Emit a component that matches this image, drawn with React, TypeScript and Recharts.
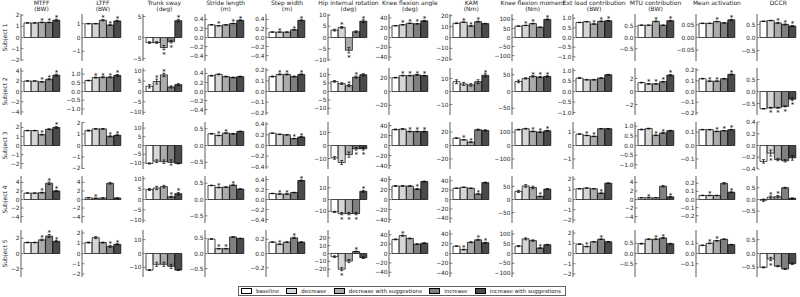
import React from 'react';
import { ComposedChart, Bar, Cell, ErrorBar, Scatter, XAxis, YAxis } from 'recharts';

const conditions = ['baseline', 'decrease', 'decrease with suggestions', 'increase', 'increase with suggestions'];
const fills = ['#ffffff', '#d6d6d6', '#ababab', '#808080', '#4a4a4a'];
const subjects = ['Subject 1', 'Subject 2', 'Subject 3', 'Subject 4', 'Subject 5'];

// rows = subjects, columns = conditions
const mtffMean = [[1.3, 1.3, 1.35, 1.35, 1.55], [2.05, 2.05, 1.9, 2.4, 3.2], [1.65, 1.65, 1.2, 1.8, 2.0], [1.5, 1.5, 1.6, 3.8, 2.0], [1.45, 1.45, 1.8, 2.3, 1.6]];
const mtffErr = [[0.02, 0.02, 0.03, 0.03, 0.08], [0.05, 0.05, 0.08, 0.1, 0.2], [0.03, 0.03, 0.05, 0.05, 0.1], [0.05, 0.05, 0.1, 0.3, 0.15], [0.05, 0.05, 0.1, 0.2, 0.1]];
const mtffSig = ['00111', '00111', '00101', '00111', '00111'];
const mtffLim = [2.1, 4.6, 2.6, 5.5, 3.1];
const mtffTicks = [[-2, -1, 0, 1, 2], [-4, -2, 0, 2, 4], [-2, -1, 0, 1, 2], [-4, -2, 0, 2, 4], [-2, 0, 2]];

const ltffMean = [[1.0, 1.0, 1.25, 0.9, 1.2], [0.63, 0.8, 0.82, 0.82, 0.93], [1.3, 1.45, 1.45, 0.8, 0.9], [0.4, 0.3, 0.35, 3.8, 0.35], [1.07, 1.55, 1.07, 0.7, 0.9]];
const ltffErr = [[0.02, 0.02, 0.05, 0.03, 0.05], [0.02, 0.03, 0.03, 0.03, 0.05], [0.05, 0.03, 0.03, 0.05, 0.03], [0.05, 0.05, 0.05, 0.2, 0.05], [0.05, 0.1, 0.05, 0.1, 0.05]];
const ltffSig = ['00111', '01111', '00011', '01000', '00011'];
const ltffLim = [1.7, 1.35, 2.05, 5.5, 2.3];
const ltffTicks = [[-1, 0, 1], [-1, -0.5, 0, 0.5, 1], [-2, -1, 0, 1, 2], [-4, -2, 0, 2, 4], [-2, -1, 0, 1, 2]];

const trunkMean = [[-1.2, -1.2, -2.4, -1.0, 4.0], [2.5, 4.8, 8.0, 2.2, 3.3], [-10.3, -9.0, -9.3, -9.7, -10.3], [4.8, 5.5, 6.2, 1.3, 2.8], [-12, -7.8, -7.8, -9.3, -12]];
const trunkErr = [[0.2, 0.2, 0.5, 0.3, 0.3], [0.8, 1.2, 0.8, 0.5, 0.5], [0.3, 0.8, 1.0, 1.5, 0.3], [0.5, 0.8, 0.6, 0.3, 0.6], [0.3, 1.5, 1.5, 1.5, 0.3]];
const trunkSig = ['00111', '01100', '00000', '00011', '00000'];
const trunkLim = [5.6, 11.3, 13.5, 11.3, 17];
const trunkTicks = [[-5, 0, 5], [-10, -5, 0, 5, 10], [-10, -5, 0, 5, 10], [-10, -5, 0, 5, 10], [-10, 0, 10]];

const strideMean = [[0.28, 0.26, 0.28, 0.31, 0.38], [0.35, 0.38, 0.33, 0.31, 0.33], [0.35, 0.3, 0.37, 0.35, 0.42], [0.43, 0.37, 0.38, 0.44, 0.32], [0.48, 0.16, 0.16, 0.55, 0.5]];
const strideErr = [[0.005, 0.005, 0.005, 0.005, 0.01], [0.01, 0.01, 0.01, 0.01, 0.01], [0.01, 0.01, 0.01, 0.01, 0.01], [0.01, 0.01, 0.01, 0.01, 0.01], [0.01, 0.01, 0.01, 0.01, 0.01]];
const strideSig = ['01011', '00000', '01100', '01010', '01100'];
const strideLim = [0.52, 0.52, 0.7, 0.72, 0.78];
const strideTicks = [[-0.4, -0.2, 0, 0.2, 0.4], [-0.4, -0.2, 0, 0.2, 0.4], [-0.5, 0, 0.5], [-0.5, 0, 0.5], [-0.5, 0, 0.5]];

const stepMean = [[0.12, 0.12, 0.12, 0.17, 0.38], [0.14, 0.16, 0.16, 0.14, 0.16], [0.23, 0.21, 0.2, 0.13, 0.16], [0.12, 0.11, 0.11, 0.14, 0.38], [0.16, 0.13, 0.16, 0.22, 0.16]];
const stepErr = [[0.005, 0.005, 0.005, 0.005, 0.01], [0.005, 0.005, 0.005, 0.005, 0.005], [0.005, 0.005, 0.005, 0.005, 0.005], [0.005, 0.005, 0.005, 0.005, 0.01], [0.005, 0.005, 0.005, 0.01, 0.005]];
const stepSig = ['01011', '01101', '00011', '01101', '01010'];
const stepLim = [0.52, 0.22, 0.44, 0.47, 0.33];
const stepTicks = [[-0.4, -0.2, 0, 0.2, 0.4], [-0.2, -0.1, 0, 0.1, 0.2], [-0.4, -0.2, 0, 0.2, 0.4], [-0.4, -0.2, 0, 0.2, 0.4], [-0.2, 0, 0.2]];

const hipMean = [[3.3, 4.5, -5.7, 2.6, 7.3], [6.0, 4.7, 3.5, 8.6, 10.0], [-9.5, -13, -7, -2.5, -2.5], [-10.5, -12, -12, -12, 7], [-4, -20, -9.6, 2.5, -5.4]];
const hipErr = [[0.4, 0.4, 1.2, 0.4, 0.6], [0.5, 0.5, 0.6, 0.6, 0.6], [1, 1.5, 2, 1, 1], [0.5, 1, 1, 1, 0.8], [1, 2, 2, 0.5, 1]];
const hipSig = ['01101', '00110', '00011', '01111', '01010'];
const hipLim = [10.5, 14, 18, 20, 30];
const hipTicks = [[-10, -5, 0, 5, 10], [-10, -5, 0, 5, 10], [-10, 0, 10], [-10, 0, 10], [-20, -10, 0, 10, 20]];

const kfaMean = [[24, 26, 29, 28, 34], [20, 23, 23, 24, 23], [32, 33, 28, 28, 28], [27, 27, 27, 21, 36], [30, 38, 32, 20, 22]];
const kfaErr = [[0.5, 0.5, 0.5, 0.5, 1], [0.5, 0.5, 0.5, 0.5, 0.5], [1, 1, 1, 1, 1], [1, 1, 1, 1, 1], [1, 1, 1, 1, 1]];
const kfaSig = ['01111', '01111', '00111', '00010', '01000'];
const kfaLim = [48, 34, 47, 47, 50];
const kfaTicks = [[-40, -20, 0, 20, 40], [-20, 0, 20], [-40, -20, 0, 20, 40], [-40, -20, 0, 20, 40], [-40, -20, 0, 20, 40]];

const kamMean = [[13, 14, 10.6, 14.5, 12.7], [7.5, 5.8, 5.1, 7.5, 12.4], [11, 8.5, 5, 23.5, 22.5], [24, 26, 24, 11.6, 36], [15, 8, 23, 28, 22]];
const kamErr = [[0.3, 0.3, 0.3, 0.5, 0.3], [1.5, 1.2, 1, 1.5, 1.2], [0.5, 0.5, 0.5, 1, 1], [0.5, 0.5, 0.5, 0.5, 1], [0.5, 1, 1, 1, 1]];
const kamSig = ['01110', '00001', '01100', '00010', '01011'];
const kamLim = [21.5, 18, 35, 50, 48];
const kamTicks = [[-20, -10, 0, 10, 20], [-10, 0, 10], [-20, 0, 20], [-40, -20, 0, 20, 40], [-40, -20, 0, 20, 40]];

const kfmMean = [[63, 67, 77, 57, 100], [30, 39, 45, 43, 45], [118, 125, 105, 100, 110], [31, 52, 46, 12, 40], [38, 75, 66, 28, 45]];
const kfmErr = [[1, 1, 2, 1, 3], [4, 2, 2, 2, 2], [3, 3, 3, 3, 3], [4, 5, 5, 1, 2], [3, 5, 4, 2, 2]];
const kfmSig = ['01101', '00111', '00111', '00010', '00010'];
const kfmLim = [130, 70, 175, 90, 120];
const kfmTicks = [[-100, -50, 0, 50, 100], [-50, 0, 50], [-100, 0, 100], [-50, 0, 50], [-100, -50, 0, 50, 100]];

const extMean = [[0.78, 0.82, 0.7, 0.84, 0.87], [0.64, 0.56, 0.56, 0.64, 0.8], [0.85, 0.75, 0.68, 1.25, 1.25], [1.05, 1.12, 1.05, 0.62, 1.6], [0.92, 0.68, 1.15, 1.4, 1.15]];
const extErr = [[0.01, 0.01, 0.02, 0.02, 0.02], [0.02, 0.02, 0.02, 0.02, 0.02], [0.02, 0.02, 0.02, 0.02, 0.02], [0.02, 0.02, 0.02, 0.03, 0.03], [0.03, 0.03, 0.03, 0.03, 0.03]];
const extSig = ['00111', '00000', '01100', '00010', '01010'];
const extLim = [1.22, 1.12, 1.75, 2.3, 2.3];
const extTicks = [[-1, -0.5, 0, 0.5, 1], [-1, -0.5, 0, 0.5, 1], [-1, 0, 1], [-2, -1, 0, 1, 2], [-2, -1, 0, 1, 2]];

const mtuMean = [[0.55, 0.55, 0.72, 0.55, 0.75], [1.36, 1.17, 1.17, 1.5, 2.5], [0.83, 0.88, 0.53, 0.65, 0.77], [0.4, 0.4, 0.4, 3.1, 0.6], [0.48, 0.7, 0.7, 0.76, 0.48]];
const mtuErr = [[0.01, 0.01, 0.02, 0.01, 0.02], [0.05, 0.05, 0.05, 0.05, 0.1], [0.02, 0.02, 0.02, 0.02, 0.02], [0.03, 0.03, 0.03, 0.15, 0.05], [0.02, 0.02, 0.02, 0.02, 0.02]];
const mtuSig = ['00101', '01111', '00110', '01001', '00110'];
const mtuLim = [1.05, 3.6, 1.22, 5.5, 1.15];
const mtuTicks = [[-0.5, 0, 0.5], [-2, 0, 2], [-1, -0.5, 0, 0.5, 1], [-4, -2, 0, 2, 4], [-0.5, 0, 0.5]];

const maMean = [[0.056, 0.056, 0.063, 0.058, 0.07], [0.12, 0.097, 0.097, 0.12, 0.16], [0.118, 0.118, 0.105, 0.11, 0.118], [0.05, 0.05, 0.05, 0.2, 0.09], [0.08, 0.1, 0.125, 0.14, 0.087]];
const maErr = [[0.001, 0.001, 0.001, 0.001, 0.002], [0.003, 0.003, 0.003, 0.003, 0.005], [0.002, 0.002, 0.002, 0.002, 0.002], [0.003, 0.003, 0.003, 0.01, 0.005], [0.003, 0.003, 0.003, 0.003, 0.003]];
const maSig = ['00101', '01101', '00111', '01001', '01100'];
const maLim = [0.093, 0.22, 0.175, 0.29, 0.23];
const maTicks = [[-0.05, 0, 0.05], [-0.2, -0.1, 0, 0.1, 0.2], [-0.1, 0, 0.1], [-0.2, -0.1, 0, 0.1, 0.2], [-0.1, 0, 0.1]];

const dccrMean = [[0.62, 0.65, 0.56, 0.5, 0.44], [-0.72, -0.68, -0.68, -0.62, -0.32], [-0.27, -0.13, -0.24, -0.26, -0.21], [-0.03, 0.1, 0.12, 0.5, 0.05], [-0.5, -0.2, -0.46, -0.56, -0.37]];
const dccrErr = [[0.01, 0.01, 0.02, 0.02, 0.02], [0.01, 0.02, 0.02, 0.02, 0.05], [0.03, 0.05, 0.02, 0.02, 0.04], [0.05, 0.05, 0.05, 0.02, 0.02], [0.02, 0.06, 0.02, 0.02, 0.03]];
const dccrSig = ['00111', '01111', '01000', '01100', '01000'];
const dccrLim = [0.9, 0.98, 0.4, 1.0, 0.85];
const dccrTicks = [[-0.5, 0, 0.5], [-0.5, 0, 0.5], [-0.4, -0.2, 0, 0.2, 0.4], [-0.5, 0, 0.5], [-0.5, 0, 0.5]];

type Metric = { title: string[]; mean: number[][]; err: number[][]; sig: string[]; lim: number[]; ticks: number[][] };

const metrics: Metric[] = [
  { title: ['MTFF', '(BW)'], mean: mtffMean, err: mtffErr, sig: mtffSig, lim: mtffLim, ticks: mtffTicks },
  { title: ['LTFF', '(BW)'], mean: ltffMean, err: ltffErr, sig: ltffSig, lim: ltffLim, ticks: ltffTicks },
  { title: ['Trunk sway', '(deg)'], mean: trunkMean, err: trunkErr, sig: trunkSig, lim: trunkLim, ticks: trunkTicks },
  { title: ['Stride length', '(m)'], mean: strideMean, err: strideErr, sig: strideSig, lim: strideLim, ticks: strideTicks },
  { title: ['Step width', '(m)'], mean: stepMean, err: stepErr, sig: stepSig, lim: stepLim, ticks: stepTicks },
  { title: ['Hip internal rotation', '(deg)'], mean: hipMean, err: hipErr, sig: hipSig, lim: hipLim, ticks: hipTicks },
  { title: ['Knee flexion angle', '(deg)'], mean: kfaMean, err: kfaErr, sig: kfaSig, lim: kfaLim, ticks: kfaTicks },
  { title: ['KAM', '(Nm)'], mean: kamMean, err: kamErr, sig: kamSig, lim: kamLim, ticks: kamTicks },
  { title: ['Knee flexion moment', '(Nm)'], mean: kfmMean, err: kfmErr, sig: kfmSig, lim: kfmLim, ticks: kfmTicks },
  { title: ['Ext load contribution', '(BW)'], mean: extMean, err: extErr, sig: extSig, lim: extLim, ticks: extTicks },
  { title: ['MTU contribution', '(BW)'], mean: mtuMean, err: mtuErr, sig: mtuSig, lim: mtuLim, ticks: mtuTicks },
  { title: ['Mean activation'], mean: maMean, err: maErr, sig: maSig, lim: maLim, ticks: maTicks },
  { title: ['DCCR'], mean: dccrMean, err: dccrErr, sig: dccrSig, lim: dccrLim, ticks: dccrTicks },
];

const FONT = '"DejaVu Sans", sans-serif';
const COL_X0 = 20.5;
const COL_STEP = 61.4;
const ROW_Y0 = 14;
const ROW_STEP = 54;
const BOX_W = 42;
const BOX_H = 47;
const AXIS_W = 24;
const PAD = 5; // room around the box so stars near the frame are not clipped

// matplotlib-like tick labels: same decimals on an axis, unicode minus
const tickFormatter = (ticks: number[]) => {
  const d = Math.max(...ticks.map((t) => (String(t).split('.')[1] || '').length));
  return (v: number) => v.toFixed(d).replace('-', '\u2212');
};

function Star(props: any) {
  const { cx, cy, payload } = props;
  if (payload == null || payload.star == null || cx == null || cy == null) return <g />;
  return (
    <text x={cx} y={cy + 4} textAnchor="middle" fontSize={7} fontFamily={FONT} fill="#000">*</text>
  );
}

function Panel({ m, r, c }: { m: Metric; r: number; c: number }) {
  const lim = m.lim[r];
  const data = conditions.map((name, i) => {
    const v = m.mean[r][i];
    const e = m.err[r][i];
    const pad = lim * 0.13;
    const star = m.sig[r][i] === '1' ? (v >= 0 ? v + e + pad : v - e - pad) : null;
    return { name, v, e, star };
  });
  const fmt = tickFormatter(m.ticks[r]);
  const left = COL_X0 + COL_STEP * c - AXIS_W;
  const top = ROW_Y0 + ROW_STEP * r - PAD;
  const tickStyle = { fontSize: 5.8, fontFamily: FONT, fill: '#222' };
  const line = { stroke: '#333', strokeWidth: 0.6 };
  const frame = { stroke: '#333', strokeWidth: 0.8 };
  return (
    <div style={{ position: 'absolute', left, top }}>
      <ComposedChart width={AXIS_W + BOX_W + 1} height={BOX_H + 2 * PAD} data={data}
        margin={{ top: PAD, right: 1, bottom: PAD, left: 0 }} barCategoryGap={0} barGap={0}>
        <XAxis dataKey="name" type="category" height={0} padding={{ left: 3, right: 3 }}
          tick={false} tickSize={-2} tickLine={line} axisLine={frame} interval={0} />
        <XAxis xAxisId="top" dataKey="name" type="category" orientation="top" height={0}
          padding={{ left: 3, right: 3 }} tick={false} tickSize={-2} tickLine={line} axisLine={frame} interval={0} />
        <YAxis type="number" domain={[-lim, lim]} allowDataOverflow ticks={m.ticks[r]} width={AXIS_W}
          tickFormatter={fmt} tick={tickStyle} tickSize={-2.5} tickMargin={4}
          tickLine={line} axisLine={frame} interval={0} />
        <YAxis yAxisId="right" orientation="right" type="number" domain={[-lim, lim]} allowDataOverflow
          ticks={m.ticks[r]} width={0} tick={false} tickSize={-2.5} tickLine={line} axisLine={frame} interval={0} />
        <Bar dataKey="v" isAnimationActive={false} stroke="#000" strokeWidth={0.7}>
          {data.map((d, i) => <Cell key={d.name} fill={fills[i]} />)}
          <ErrorBar dataKey="e" width={1.5} stroke="#000" strokeWidth={0.7} />
        </Bar>
        <Scatter dataKey="star" isAnimationActive={false} shape={Star} />
      </ComposedChart>
    </div>
  );
}

export default function App() {
  return (
    <div style={{ position: 'absolute', left: 0, top: 0, width: 800, height: 297, background: '#fff', overflow: 'hidden' }}>
      {metrics.map((m, c) => subjects.map((s, r) => <Panel key={`${c}-${r}`} m={m} r={r} c={c} />))}
      <svg width={800} height={297} style={{ position: 'absolute', left: 0, top: 0, pointerEvents: 'none' }}>
        {metrics.map((m, c) => {
          const cx = COL_X0 + COL_STEP * c + BOX_W / 2;
          return m.title.map((ln, k) => (
            <text key={`${c}-${k}`} x={cx} y={5 + k * 6.2} textAnchor="middle" fontSize={6} fontFamily={FONT} fill="#222">{ln}</text>
          ));
        })}
        {subjects.map((s, r) => {
          const cy = ROW_Y0 + ROW_STEP * r + BOX_H / 2;
          return (
            <text key={s} x={0} y={0} transform={`translate(7, ${cy}) rotate(-90)`} textAnchor="middle"
              fontSize={6} fontFamily={FONT} fill="#222">{s}</text>
          );
        })}
      </svg>
      <div style={{ position: 'absolute', left: 238, top: 286, width: 328, height: 10, boxSizing: 'border-box',
        border: '1px solid #666', display: 'flex', alignItems: 'center', justifyContent: 'space-between',
        fontFamily: FONT, fontSize: 5.5, color: '#222', padding: '0 4px 0 2px', whiteSpace: 'nowrap' }}>
        {conditions.map((cnd, i) => (
          <div key={cnd} style={{ display: 'flex', alignItems: 'center' }}>
            <span style={{ display: 'inline-block', width: 9, height: 3.5, background: fills[i], border: '0.8px solid #000', marginRight: 4 }} />
            <span>{cnd}</span>
          </div>
        ))}
      </div>
    </div>
  );
}
